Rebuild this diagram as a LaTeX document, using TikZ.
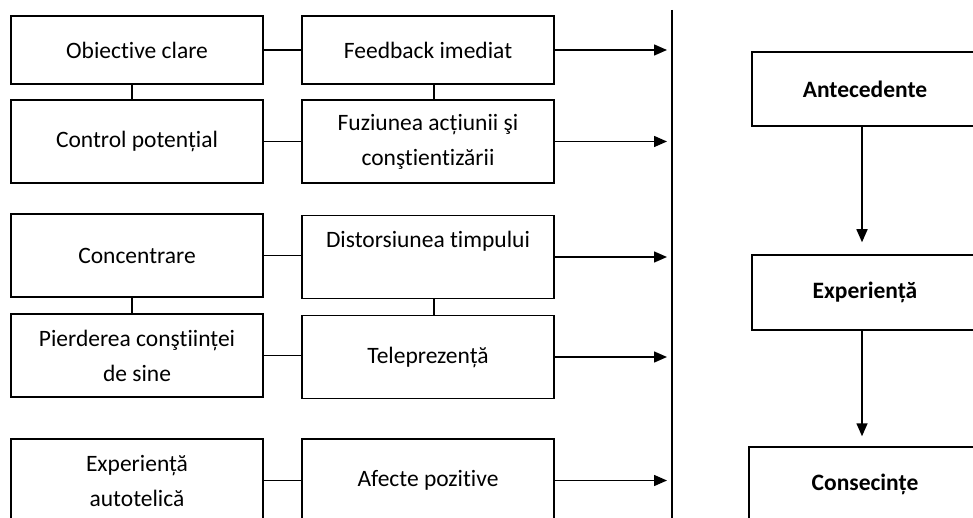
\documentclass[tikz,border=0pt]{standalone}
\usepackage{fontspec}
\setmainfont{Carlito}[Ligatures={NoCommon}]
\usetikzlibrary{arrows.meta}
\begin{document}
\begin{tikzpicture}[x=1pt,y=-1pt,
  box/.style={draw,line width=1.5pt,minimum width=252pt,minimum height=83pt,
    inner sep=0pt,align=center,font=\fontsize{23.5}{35}\selectfont},
  bigbox/.style={draw,line width=1.5pt,minimum width=226pt,minimum height=75pt,
    inner sep=0pt,align=center,font=\fontsize{23.5}{35}\selectfont\bfseries},
  link/.style={line width=1.2pt},
  arr/.style={line width=1.5pt,-{Triangle[length=13pt,width=11pt]}}]
\useasboundingbox (0,0) rectangle (973,518);

% left column
\node[box,minimum height=68pt] (o1) at (137,50) {Obiective clare};
\node[box] (o2) at (137,141.5) {Control potențial};
\node[box] (c1) at (137,255.5) {Concentrare};
\node[box] (p1) at (137,355.5) {Pierderea conştiinței\\de sine};
\node[box] (e1) at (137,480.5) {Experiență\\autotelică};

% middle column
\node[box,minimum height=68pt] (f1) at (428,50) {Feedback imediat};
\node[box] (f2) at (428,141.5) {Fuziunea acțiunii şi\\conştientizării};
\node[box] (d1) at (428,257) {Distorsiunea timpului\\ \mbox{}};
\node[box] (t1) at (428,357) {Teleprezență};
\node[box] (a1) at (428,480.5) {Afecte pozitive};

% horizontal links
\foreach \l/\r in {o1/f1,o2/f2,c1/d1,p1/t1,e1/a1}
  \draw[link] (\l.east) -- (\l.east -| \r.west);

% vertical links
\draw[link] ([xshift=-5pt]o1.south) -- ([xshift=-5pt]o2.north);
\draw[link] ([xshift=-5pt]c1.south) -- ([xshift=-5pt]p1.north);
\draw[link] ([xshift=6pt]f1.south) -- ([xshift=6pt]f2.north);
\draw[link] ([xshift=6pt]d1.south) -- ([xshift=6pt]t1.north);

% divider and arrows into it
\coordinate (bartop) at (672,10);
\coordinate (barbot) at (672,530);
\coordinate (tipx) at (667,0);
\draw[line width=1.5pt] (bartop) -- (barbot);
\foreach \m in {f1,f2,d1,t1,a1}
  \draw[arr] (\m.east) -- (\m.east -| tipx);

% right column
\node[bigbox,minimum height=74pt] (r1) at (865,89) {Antecedente};
\node[bigbox] (r2) at (865,292.5) {Experiență};
\node[bigbox,minimum width=232pt] (r3) at (865,484.5) {Consecințe};
\draw[arr] ([xshift=-3pt]r1.south) -- ([xshift=-3pt,yshift=12pt]r2.north);
\draw[arr] ([xshift=-3pt]r2.south) -- ([xshift=-3pt,yshift=10pt]r3.north);
\end{tikzpicture}
\end{document}
